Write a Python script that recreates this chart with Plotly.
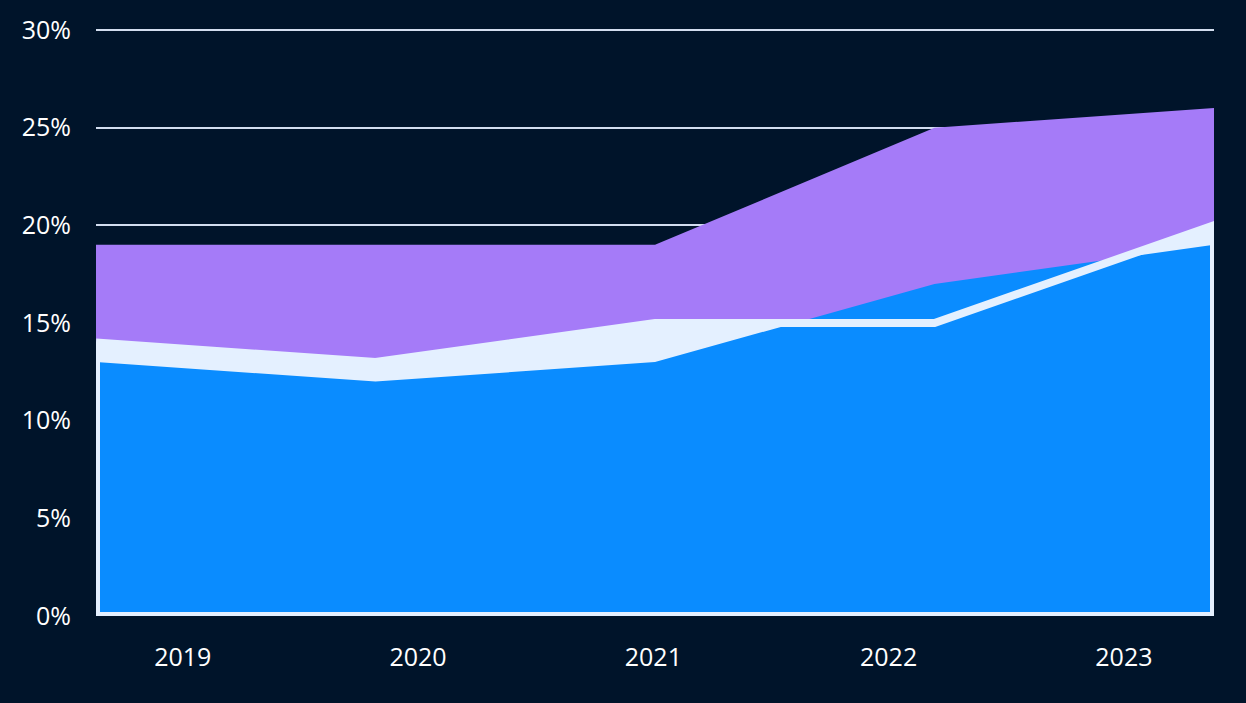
import plotly.graph_objects as go

years = ["2019", "2020", "2021", "2022", "2023"]
purple_vals = [19, 19, 19, 25, 26]
light_vals = [14, 13, 15, 15, 20]
blue_vals = [13, 12, 13, 17, 19]
y_ticks = [0, 5, 10, 15, 20, 25, 30]
y_tick_labels = [f"{v}%" for v in y_ticks]

BG = "#00142a"
PURPLE = "#a57bf8"
LIGHT = "#e4f0ff"
BLUE = "#0a8cff"
GRID = "#d2ddef"
FONT = "Open Sans"

idx = list(range(len(years)))
n = len(years) - 1

fig = go.Figure()
fig.add_trace(go.Scatter(x=idx, y=purple_vals, mode="lines", fill="tozeroy",
                         fillcolor=PURPLE, line=dict(width=0, color=PURPLE),
                         hoverinfo="skip", showlegend=False))
fig.add_trace(go.Scatter(x=idx, y=light_vals, mode="lines", fill="tozeroy",
                         fillcolor=LIGHT, line=dict(width=0, color=LIGHT),
                         hoverinfo="skip", showlegend=False))
fig.add_trace(go.Scatter(x=idx, y=blue_vals, mode="lines", fill="tozeroy",
                         fillcolor=BLUE, line=dict(width=0, color=BLUE),
                         hoverinfo="skip", showlegend=False))
# outline of the light series (top, right, bottom, left)
ox = idx + [n, 0, 0]
oy = light_vals + [0, 0, light_vals[0]]
fig.add_trace(go.Scatter(x=ox, y=oy, mode="lines",
                         line=dict(width=8, color=LIGHT),
                         hoverinfo="skip", showlegend=False))
# category label axis
fig.add_trace(go.Scatter(x=years, y=[None] * len(years), xaxis="x2",
                         mode="markers", hoverinfo="skip", showlegend=False))

fig.update_layout(
    width=1246, height=703,
    paper_bgcolor=BG, plot_bgcolor=BG,
    margin=dict(l=96, r=32, t=28, b=87),
    font=dict(family=FONT, color="white", size=25),
    xaxis=dict(range=[0, n], showgrid=False, zeroline=False,
               showticklabels=False, ticks="", showline=False, fixedrange=True),
    xaxis2=dict(type="category", overlaying="x", side="bottom", anchor="y",
                range=[-0.369, 4.383], showgrid=False, zeroline=False,
                ticks="", showline=False, ticklabelstandoff=24,
                tickfont=dict(family=FONT, size=25, color="white")),
    yaxis=dict(range=[0, 30.1], tickvals=y_ticks, ticktext=y_tick_labels,
               showgrid=True, gridcolor=GRID, gridwidth=2, zeroline=False,
               ticks="", showline=False, ticklabelstandoff=24,
               tickfont=dict(family=FONT, size=25, color="white")),
)

fig.write_html(
    "out.html",
    config={"displayModeBar": False},
    post_script="document.body.style.margin='0';"
                "document.body.style.background='" + BG + "';"
                "document.body.style.overflow='hidden';",
)
